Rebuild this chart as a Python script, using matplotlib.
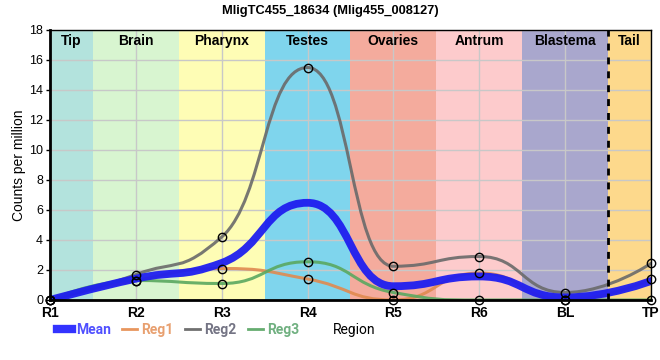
import matplotlib
matplotlib.use('Agg')
import matplotlib.pyplot as plt
from matplotlib.path import Path
from matplotlib.patches import PathPatch
from matplotlib.lines import Line2D

# Data
regions = ['R1', 'R2', 'R3', 'R4', 'R5', 'R6', 'BL', 'TP']
mean = [0.0, 1.42, 2.47, 6.48, 0.92, 1.57, 0.17, 1.27]
reg1 = [0.0, 1.3, 2.1, 1.4, 0.0, 1.8, 0.0, 1.4]
reg2 = [0.0, 1.7, 4.2, 15.5, 2.25, 2.9, 0.5, 2.44]
reg3 = [0.0, 1.3, 1.1, 2.55, 0.5, 0.0, 0.0, 0.0]

bands = ['Tip', 'Brain', 'Pharynx', 'Testes', 'Ovaries', 'Antrum', 'Blastema', 'Tail']
band_edges = [0, 0.5, 1.5, 2.5, 3.5, 4.5, 5.5, 6.5, 7]
band_colors = ['#b3e3dd', '#d8f5d0', '#fefdb5', '#7fd5ed', '#f4ab9d', '#fdcbcc', '#a9a7cd', '#fdd98c']


def spline_path(xs, ys, smoothing=1.0):
    # cubic bezier spline through the points
    n = len(xs)
    lc = [None] * n
    rc = [None] * n
    for i in range(1, n - 1):
        px, py = xs[i], ys[i]
        lx, ly = xs[i - 1], ys[i - 1]
        nx, ny = xs[i + 1], ys[i + 1]
        d = smoothing + 1
        lcx, lcy = (smoothing * px + lx) / d, (smoothing * py + ly) / d
        rcx, rcy = (smoothing * px + nx) / d, (smoothing * py + ny) / d
        corr = ((rcy - lcy) * (rcx - px)) / (rcx - lcx) + py - rcy
        lcy += corr
        rcy += corr
        if lcy > ly and lcy > py:
            lcy = max(ly, py)
            rcy = 2 * py - lcy
        elif lcy < ly and lcy < py:
            lcy = min(ly, py)
            rcy = 2 * py - lcy
        if rcy > ny and rcy > py:
            rcy = max(ny, py)
            lcy = 2 * py - rcy
        elif rcy < ny and rcy < py:
            rcy = min(ny, py)
            lcy = 2 * py - rcy
        lc[i] = (lcx, lcy)
        rc[i] = (rcx, rcy)
    verts = [(xs[0], ys[0])]
    codes = [Path.MOVETO]
    for i in range(1, n):
        c1 = rc[i - 1] if rc[i - 1] else (xs[i - 1], ys[i - 1])
        c2 = lc[i] if lc[i] else (xs[i], ys[i])
        verts += [c1, c2, (xs[i], ys[i])]
        codes += [Path.CURVE4] * 3
    return Path(verts, codes)


plt.rcParams['font.family'] = ['Liberation Sans', 'DejaVu Sans']

fig = plt.figure(figsize=(6.6, 3.6), dpi=100)
ax = fig.add_axes([50 / 660, 60 / 360, 601 / 660, 270 / 360])

x = list(range(len(regions)))

for i, name in enumerate(bands):
    ax.axvspan(band_edges[i], band_edges[i + 1], color=band_colors[i], lw=0, zorder=0)
    ax.text((band_edges[i] + band_edges[i + 1]) / 2, 17.75, name, ha='center', va='top',
            fontsize=10, fontweight='bold', zorder=5)

ax.set_xlim(0, 7)
ax.set_ylim(0, 18)
ax.set_yticks(range(0, 19, 2))
ax.set_xticks(x)
ax.set_xticklabels(regions, fontweight='bold', fontsize=10)
ax.grid(True, color='#c8c8c8', lw=1, zorder=1)
ax.set_axisbelow(True)
ax.tick_params(axis='y', labelsize=9, length=3, width=1, pad=2)
ax.tick_params(axis='x', length=0, pad=4)
ax.axvline(6.5, color='black', lw=2, ls=(0, (2.5, 2.5)), zorder=4)

series = [
    ('Reg1', reg1, '#e08a50', 2.2),
    ('Reg2', reg2, '#6a6a6a', 2.2),
    ('Reg3', reg3, '#5aa860', 2.2),
]
for name, vals, col, lw in series:
    ax.add_patch(PathPatch(spline_path(x, vals), fill=False, edgecolor=col, lw=lw,
                           alpha=0.9, zorder=3, capstyle='round'))
ax.add_patch(PathPatch(spline_path(x, mean), fill=False, edgecolor='#1e1ef0', lw=5.6,
                       alpha=0.95, zorder=3.5, capstyle='round'))
for name, vals, col, lw in series:
    ax.plot(x, vals, 'o', ms=6, mfc='none', mec='black', mew=1, zorder=6, clip_on=False)

for s in ['left', 'bottom']:
    ax.spines[s].set_linewidth(2)
for s in ['top', 'right']:
    ax.spines[s].set_linewidth(1)
for s in ax.spines.values():
    s.set_zorder(7)

ax.set_ylabel('Counts per million', fontsize=10, labelpad=2)
fig.suptitle('MligTC455_18634 (Mlig455_008127)', fontsize=9.3, fontweight='bold', y=0.985)

handles = [Line2D([], [], color='#3333ff', lw=6),
           Line2D([], [], color='#e8965e', lw=2),
           Line2D([], [], color='#707070', lw=2),
           Line2D([], [], color='#66ad70', lw=2)]
labels = ['Mean', 'Reg1', 'Reg2', 'Reg3']
leg = fig.legend(handles, labels, loc='center left', bbox_to_anchor=(44 / 660, 30 / 360),
                 ncol=4, frameon=False, handlelength=1.1, handletextpad=0.3,
                 columnspacing=0.8, prop={'family': 'Roboto', 'size': 10, 'weight': 'bold'})
for t, c in zip(leg.get_texts(), ['#5050ff', '#e8a070', '#747484', '#70b080']):
    t.set_color(c)
fig.text(333 / 660, 30 / 360, 'Region', ha='left', va='center', fontsize=10, family='Roboto')

fig.savefig('out.png', dpi=100)
